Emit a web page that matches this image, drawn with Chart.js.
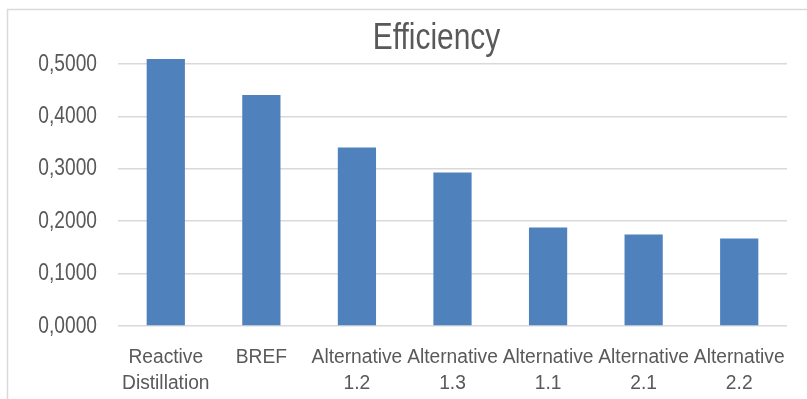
<!DOCTYPE html>
<html>
<head>
<meta charset="utf-8">
<style>
  html, body { margin: 0; padding: 0; background: #ffffff; }
  #wrap { width: 807px; height: 399px; position: relative; }
</style>
<script src="https://cdn.jsdelivr.net/npm/chart.js@4/dist/chart.umd.min.js"></script>
</head>
<body>
<div id="wrap"><canvas id="chart" width="807" height="399"></canvas></div>
<script>
// Process alternatives and their efficiency
const categories = [
  ['Reactive', 'Distillation'],
  'BREF',
  ['Alternative', '1.2'],
  ['Alternative', '1.3'],
  ['Alternative', '1.1'],
  ['Alternative', '2.1'],
  ['Alternative', '2.2']
];
const efficiency = [0.5095, 0.4410, 0.3405, 0.2930, 0.1878, 0.1745, 0.1668];
const tickValues = [0, 0.1, 0.2, 0.3, 0.4, 0.5];
const titleText = 'Efficiency';

const textGray = '#595959';
const gridGray = '#d9d9d9';
const fontFamily = "'Liberation Sans', Arial, sans-serif";

// Horizontal squeeze per font size, giving a narrow sans look
const textStretch = { 36: 0.83, 24: 0.8, 20: 0.96 };

const canvas = document.getElementById('chart');
const ctx2d = canvas.getContext('2d');
const baseFillText = ctx2d.fillText;
ctx2d.fillText = function (text, x, y, maxWidth) {
  const m = /(\d+(?:\.\d+)?)px/.exec(this.font);
  const sx = m ? (textStretch[parseFloat(m[1])] || 1) : 1;
  if (sx === 1) {
    return maxWidth === undefined
      ? baseFillText.call(this, text, x, y)
      : baseFillText.call(this, text, x, y, maxWidth);
  }
  this.save();
  this.translate(x, y);
  this.scale(sx, 1);
  if (maxWidth === undefined) baseFillText.call(this, text, 0, 0);
  else baseFillText.call(this, text, 0, 0, maxWidth / sx);
  this.restore();
};

// Thin frame around the chart area (only top and left edges fall inside the canvas)
const framePlugin = {
  id: 'frame',
  afterLayout(chart) {
    // centre the title over the wider chart frame, not the canvas
    if (chart.titleBlock) {
      chart.titleBlock.left = 86;
    }
  },
  beforeDraw(chart) {
    const ctx = chart.ctx;
    ctx.save();
    ctx.fillStyle = '#ffffff';
    ctx.fillRect(0, 0, chart.width, chart.height);
    ctx.strokeStyle = gridGray;
    ctx.lineWidth = 1.5;
    ctx.beginPath();
    ctx.moveTo(7.5, chart.height + 5);
    ctx.lineTo(7.5, 9.5);
    ctx.lineTo(chart.width + 5, 9.5);
    ctx.stroke();
    ctx.restore();
  }
};

new Chart(canvas, {
  type: 'bar',
  data: {
    labels: categories,
    datasets: [{
      data: efficiency,
      backgroundColor: '#4f81bd',
      borderWidth: 0,
      barPercentage: 0.4,
      categoryPercentage: 1.0
    }]
  },
  plugins: [framePlugin],
  options: {
    responsive: false,
    animation: false,
    devicePixelRatio: 1,
    layout: { padding: { left: 0, right: 20, top: 0, bottom: 0 } },
    plugins: {
      legend: { display: false },
      tooltip: { enabled: false },
      title: {
        display: true,
        text: titleText,
        color: textGray,
        font: { family: fontFamily, size: 36, weight: 'normal', lineHeight: 0.82 },
        padding: { top: 24, bottom: 0 }
      }
    },
    scales: {
      x: {
        grid: { display: false, drawTicks: false },
        border: { display: false },
        ticks: {
          color: textGray,
          maxRotation: 0,
          autoSkip: false,
          padding: 18,
          font: { family: fontFamily, size: 20, lineHeight: 1.3 }
        },
        afterFit(scale) { scale.height = 73; }
      },
      y: {
        min: 0,
        max: 0.52,
        grid: { color: gridGray, lineWidth: 1.5, drawTicks: false },
        border: { display: false },
        afterBuildTicks(scale) {
          scale.ticks = tickValues.map(v => ({ value: v }));
        },
        afterFit(scale) { scale.width = 118; },
        ticks: {
          color: textGray,
          padding: 21,
          font: { family: fontFamily, size: 24 },
          callback: (v) => v.toFixed(4).replace('.', ',')
        }
      }
    }
  }
});
</script>
</body>
</html>
